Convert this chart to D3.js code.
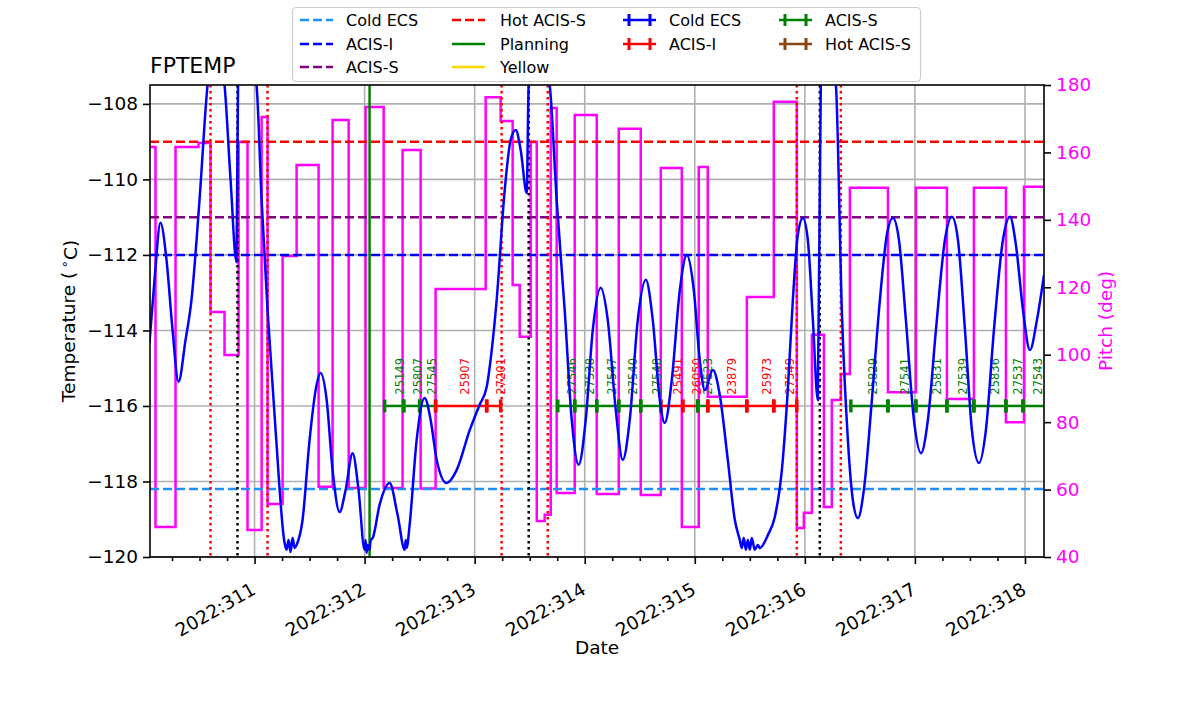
<!DOCTYPE html>
<html><head><meta charset="utf-8">
<script src="https://cdn.jsdelivr.net/npm/d3@7/dist/d3.min.js"></script>
<style>body{margin:0;background:#fff}svg{display:block}text{font-family:"DejaVu Sans",sans-serif}</style>
</head><body><svg id="c" width="1200" height="714"></svg>
<script>
// ---------- DATA ----------
const xDomain = [310.05, 318.173];
const tempDomain = [-120, -107.5];
const pitchDomain = [40, 180];
const dayTicks = [311, 312, 313, 314, 315, 316, 317, 318];
const tempTicks = [-120, -118, -116, -114, -112, -110, -108];
const pitchTicks = [40, 60, 80, 100, 120, 140, 160, 180];

// FPTEMP model [day of 2022, degC]
const fptemp = [
[310.045,-114.33],[310.091,-112.66],[310.145,-111.15],[310.2,-112.13],[310.255,-113.99],[310.309,-115.36],
[310.373,-114.25],[310.427,-113.19],[310.5,-110.54],[310.573,-107.5],[310.645,-106.3],[310.727,-107.5],
[310.782,-110.01],[310.836,-112.19],[310.85,-107.5],[310.936,-106.3],[311.018,-107.5],[311.064,-110.54],
[311.118,-113.46],[311.191,-116.64],[311.273,-119.63],[311.291,-119.81],[311.309,-119.55],[311.327,-119.87],
[311.345,-119.50],[311.364,-119.76],[311.382,-119.68],[311.436,-119.02],[311.5,-116.90],[311.555,-115.58],
[311.6,-115.13],[311.655,-115.84],[311.709,-117.70],[311.773,-118.81],[311.827,-118.23],[311.891,-117.25],
[311.945,-118.23],[312.0,-119.81],[312.009,-119.55],[312.018,-119.89],[312.027,-119.68],[312.045,-119.81],
[312.055,-119.55],[312.073,-119.50],[312.136,-118.62],[312.227,-118.04],[312.3,-118.89],[312.364,-119.81],
[312.373,-119.55],[312.382,-119.76],[312.409,-119.15],[312.473,-116.90],[312.545,-115.79],[312.6,-116.37],
[312.655,-117.43],[312.745,-118.04],[312.836,-117.70],[312.955,-116.64],[313.045,-115.97],[313.109,-115.50],
[313.155,-114.52],[313.2,-113.19],[313.273,-110.28],[313.327,-108.95],[313.373,-108.69],[313.418,-109.22],
[313.473,-110.36],[313.491,-107.5],[313.591,-106.3],[313.682,-107.5],[313.745,-110.54],[313.818,-113.46],
[313.882,-116.37],[313.945,-117.56],[314.009,-116.37],[314.073,-113.99],[314.145,-112.87],[314.209,-113.72],
[314.282,-116.11],[314.345,-117.43],[314.409,-116.37],[314.482,-113.72],[314.555,-112.66],[314.618,-113.72],
[314.682,-115.84],[314.727,-116.45],[314.791,-115.31],[314.864,-112.93],[314.927,-112.0],[314.991,-112.93],
[315.045,-114.78],[315.091,-115.58],[315.164,-115.05],[315.227,-115.71],[315.3,-117.43],[315.364,-119.02],
[315.409,-119.55],[315.427,-119.76],[315.445,-119.50],[315.464,-119.81],[315.482,-119.55],[315.5,-119.81],
[315.518,-119.50],[315.545,-119.81],[315.573,-119.68],[315.591,-119.76],[315.664,-119.42],[315.727,-118.94],
[315.791,-117.70],[315.845,-115.58],[315.891,-113.19],[315.936,-111.47],[315.982,-111.02],[316.027,-111.60],
[316.073,-113.72],[316.118,-115.84],[316.145,-107.5],[316.209,-106.3],[316.282,-107.5],[316.336,-113.46],
[316.391,-116.90],[316.436,-118.49],[316.482,-118.97],[316.536,-118.23],[316.609,-115.84],[316.682,-113.19],
[316.745,-111.47],[316.8,-111.02],[316.855,-111.60],[316.918,-113.72],[316.991,-116.37],[317.055,-117.25],
[317.118,-116.37],[317.191,-113.99],[317.273,-111.60],[317.336,-110.99],[317.391,-111.60],[317.455,-113.99],
[317.518,-116.64],[317.582,-117.51],[317.645,-116.64],[317.718,-113.99],[317.8,-111.60],[317.864,-110.99],
[317.918,-111.74],[317.982,-113.46],[318.045,-114.52],[318.109,-113.72],[318.173,-112.53]
];

// Pitch steps
const pitchTimes = [310.045,310.1,310.282,310.491,310.6,310.727,310.855,310.936,311.064,311.118,311.255,311.382,
 311.582,311.709,311.855,312.009,312.173,312.345,312.509,312.645,313.1,313.236,313.345,313.409,313.509,313.564,
 313.636,313.691,313.745,313.909,314.109,314.309,314.509,314.691,314.882,315.036,315.118,315.473,315.718,315.927,
 315.991,316.064,316.173,316.245,316.327,316.409,316.755,317.009,317.291,317.536,317.827,317.991,318.173];
const pitchVals = [161.6,48.9,161.6,162.8,112.7,99.9,163.1,48.0,170.5,55.7,129.3,156.3,
 60.8,169.6,60.5,173.5,60.5,160.7,60.3,119.5,176.4,169.3,120.7,105.3,163.1,50.7,
 52.5,173.2,59.0,171.1,58.7,167.0,58.4,155.4,48.9,155.7,87.5,117.1,175.0,48.6,
 53.1,105.9,54.8,86.6,94.3,149.5,88.9,149.5,86.9,149.5,80.0,149.8,149.8];

// Limit lines (degC)
const limitNames = ["Cold ECS", "ACIS-I", "ACIS-S", "Hot ACIS-S"];
const limitVals = [-118.2, -112.0, -111.0, -109.0];
const limitColors = ["#1e90ff", "#0000ff", "#800080", "#ff0000"];

// Vertical markers
const redDotted = [310.6, 311.118, 313.245, 313.664, 315.927, 316.327];
const blackDotted = [310.845, 313.491, 316.136];
const greenLine = [312.045];

// Obsids
const obsIds = [25149,25807,27545,25907,27201,27546,27538,27547,27540,27548,25491,26050,27523,23879,25973,27549,25829,27541,25831,27539,25836,27537,27543];
const obsStart = [312.182,312.355,312.5,312.645,313.109,313.755,313.909,314.109,314.309,314.509,314.691,314.891,315.027,315.118,315.473,315.718,316.418,316.755,317.009,317.291,317.536,317.827,317.982];
const obsStop = [312.355,312.5,312.645,313.109,313.236,313.909,314.109,314.309,314.509,314.691,314.891,315.027,315.118,315.473,315.718,315.927,316.755,317.009,317.291,317.536,317.827,317.982,318.4];
const obsInstr = ["S","S","S","I","I","S","S","S","S","S","I","I","S","I","I","I","S","S","S","S","S","S","S"];
const obsLabelTime = [312.318,312.482,312.609,312.909,313.236,313.882,314.045,314.245,314.436,314.655,314.845,315.018,315.118,315.336,315.655,315.864,316.618,316.909,317.2,317.436,317.727,317.936,318.118];
const obsBarTemp = -116;
const obsLabelTemp = -115.7;

// ---------- DRAW ----------
const L = 150, R = 1044, T = 85, B = 557;
const svg = d3.select("#c");
const x = d3.scaleLinear().domain(xDomain).range([L, R]);
const yT = d3.scaleLinear().domain(tempDomain).range([B, T]);
const yP = d3.scaleLinear().domain(pitchDomain).range([B, T]);
const instrColor = {S: "#008000", I: "#ff0000"};

svg.append("defs").append("clipPath").attr("id", "clip")
  .append("rect").attr("x", L).attr("y", T).attr("width", R - L).attr("height", B - T);

const grid = svg.append("g").attr("stroke", "#b0b0b0").attr("stroke-width", 1.6);
dayTicks.forEach(d => grid.append("line").attr("x1", x(d)).attr("x2", x(d)).attr("y1", T).attr("y2", B));
tempTicks.forEach(t => grid.append("line").attr("x1", L).attr("x2", R).attr("y1", yT(t)).attr("y2", yT(t)));

const plot = svg.append("g").attr("clip-path", "url(#clip)");

// pitch
const pitchData = pitchTimes.map((t, i) => [t, pitchVals[i]]);
plot.append("path").datum(pitchData)
  .attr("d", d3.line().x(d => x(d[0])).y(d => yP(d[1])).curve(d3.curveStepAfter))
  .attr("fill", "none").attr("stroke", "#ff00ff").attr("stroke-width", 2.5);

// limits
limitVals.forEach((v, i) => plot.append("line").attr("x1", L).attr("x2", R).attr("y1", yT(v)).attr("y2", yT(v))
  .attr("stroke", limitColors[i]).attr("stroke-width", 2.5).attr("stroke-dasharray", "9,4"));

// verticals
redDotted.forEach(d => plot.append("line").attr("x1", x(d)).attr("x2", x(d)).attr("y1", T).attr("y2", B)
  .attr("stroke", "#ff0000").attr("stroke-width", 2.5).attr("stroke-dasharray", "2.5,3.5"));
blackDotted.forEach(d => plot.append("line").attr("x1", x(d)).attr("x2", x(d)).attr("y1", T).attr("y2", B)
  .attr("stroke", "#000").attr("stroke-width", 2.5).attr("stroke-dasharray", "2.5,3.5"));
greenLine.forEach(d => plot.append("line").attr("x1", x(d)).attr("x2", x(d)).attr("y1", T).attr("y2", B)
  .attr("stroke", "#008000").attr("stroke-width", 2.5));

// obsid bars
const yb = yT(obsBarTemp);
obsIds.forEach((id, i) => {
  const c = instrColor[obsInstr[i]];
  const x0 = x(obsStart[i]), x1 = x(obsStop[i]);
  plot.append("line").attr("x1", x0).attr("x2", x1).attr("y1", yb).attr("y2", yb).attr("stroke", c).attr("stroke-width", 2.5);
  [x0, x1].forEach(xx => plot.append("line").attr("x1", xx).attr("x2", xx).attr("y1", yb - 6.5).attr("y2", yb + 6.5)
    .attr("stroke", c).attr("stroke-width", 3.5));
});
obsIds.forEach((id, i) => {
  const xx = x(obsLabelTime[i]), yy = yT(obsLabelTemp);
  plot.append("text").attr("transform", `translate(${xx},${yy}) rotate(-90)`).attr("dy", "0.36em")
    .attr("font-size", "11.5px").attr("fill", instrColor[obsInstr[i]]).text(String(id));
});

// temperature
plot.append("path").datum(fptemp)
  .attr("d", d3.line().x(d => x(d[0])).y(d => yT(d[1])).curve(d3.curveMonotoneX))
  .attr("fill", "none").attr("stroke", "#0000ff").attr("stroke-width", 2.5);

// frame
svg.append("rect").attr("x", L).attr("y", T).attr("width", R - L).attr("height", B - T)
  .attr("fill", "none").attr("stroke", "#000").attr("stroke-width", 1.6);

// axes
const axL = svg.append("g").attr("transform", `translate(${L},0)`)
  .call(d3.axisLeft(yT).tickValues(tempTicks).tickSize(7).tickPadding(5).tickFormat(d3.format("d")));
const axR = svg.append("g").attr("transform", `translate(${R},0)`)
  .call(d3.axisRight(yP).tickValues(pitchTicks).tickSize(7).tickPadding(5).tickFormat(d3.format("d")));
axR.selectAll("text").attr("fill", "#ff00ff");
const axB = svg.append("g").attr("transform", `translate(0,${B})`)
  .call(d3.axisBottom(x).tickValues(dayTicks).tickSize(7).tickFormat(d => "2022:" + d));
const minorTicks = d3.range(310.25, 318.2, 0.25).filter(d => Math.abs(d - Math.round(d)) > 1e-6);
const axBm = svg.append("g").attr("transform", `translate(0,${B})`)
  .call(d3.axisBottom(x).tickValues(minorTicks).tickSize(4).tickFormat(""));
[axL, axR, axB, axBm].forEach(a => {
  a.select(".domain").remove();
  a.selectAll("line").attr("stroke", "#000").attr("stroke-width", 1.6);
  a.selectAll("text").attr("font-size", "18.5px").attr("font-family", "DejaVu Sans");
});
axB.selectAll("text").attr("y", null).attr("dy", null).attr("text-anchor", "end")
  .attr("transform", "translate(2,36) rotate(-30)");

// labels
svg.append("text").attr("x", L).attr("y", 73).attr("font-size", "22px").text("FPTEMP");
svg.append("text").attr("x", (L + R) / 2).attr("y", 654).attr("text-anchor", "middle").attr("font-size", "18.5px").text("Date");
const yl = svg.append("text").attr("transform", `translate(75,${(T + B) / 2}) rotate(-90)`).attr("text-anchor", "middle").attr("font-size", "18.5px");
yl.append("tspan").text("Temperature (\u2009");
yl.append("tspan").attr("dy", "-0.45em").attr("font-size", "13px").text("∘");
yl.append("tspan").attr("dy", "0.45em").text("C)");
svg.append("text").attr("transform", `translate(1112,${(T + B) / 2}) rotate(-90)`).attr("text-anchor", "middle")
  .attr("font-size", "18.5px").attr("fill", "#ff00ff").text("Pitch (deg)");

// legend
const lg = svg.append("g");
lg.append("rect").attr("x", 292.5).attr("y", 7.5).attr("width", 628).attr("height", 74).attr("rx", 4)
  .attr("fill", "#fff").attr("fill-opacity", 0.85).attr("stroke", "#cccccc").attr("stroke-width", 1.2);
const legendItems = [
  {col: 0, row: 0, name: limitNames[0], color: limitColors[0], type: "dash"},
  {col: 0, row: 1, name: limitNames[1], color: limitColors[1], type: "dash"},
  {col: 0, row: 2, name: limitNames[2], color: limitColors[2], type: "dash"},
  {col: 1, row: 0, name: limitNames[3], color: limitColors[3], type: "dash"},
  {col: 1, row: 1, name: "Planning", color: "#008000", type: "solid"},
  {col: 1, row: 2, name: "Yellow", color: "#ffd700", type: "solid"},
  {col: 2, row: 0, name: "Cold ECS", color: "#0000ff", type: "err"},
  {col: 2, row: 1, name: "ACIS-I", color: "#ff0000", type: "err"},
  {col: 3, row: 0, name: "ACIS-S", color: "#008000", type: "err"},
  {col: 3, row: 1, name: "Hot ACIS-S", color: "#8b4513", type: "err"}
];
const colHandle = [300, 452, 623, 779], colText = [346, 500, 669, 825], rowY = [20, 44, 67];
legendItems.forEach(it => {
  const hx = colHandle[it.col], yy = rowY[it.row], w = 33;
  const ln = lg.append("line").attr("x1", hx).attr("x2", hx + w).attr("y1", yy).attr("y2", yy)
    .attr("stroke", it.color).attr("stroke-width", 2.5);
  if (it.type === "dash") ln.attr("stroke-dasharray", "9,4");
  if (it.type === "err") {
    [hx + 6, hx + w - 6].forEach(tx => lg.append("line").attr("x1", tx).attr("x2", tx).attr("y1", yy - 6).attr("y2", yy + 6)
      .attr("stroke", it.color).attr("stroke-width", 3));
  }
  lg.append("text").attr("x", colText[it.col]).attr("y", yy).attr("dy", "0.36em").attr("font-size", "16px").text(it.name);
});
</script></body></html>
